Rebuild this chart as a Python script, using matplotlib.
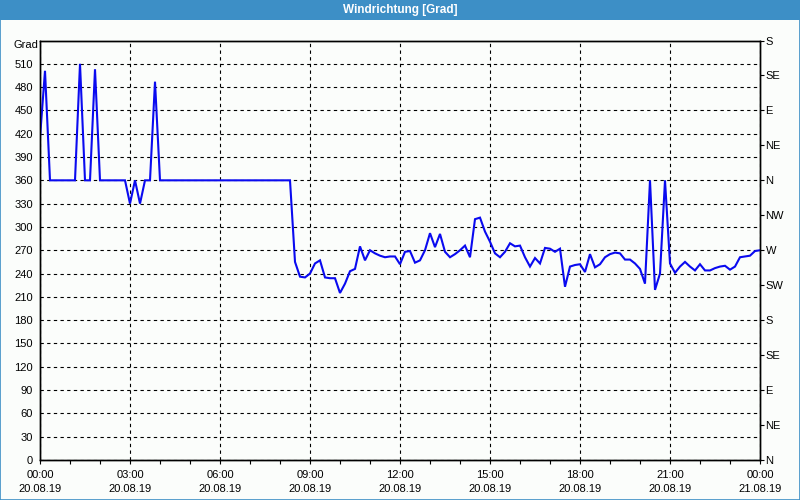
import numpy as np
import matplotlib
matplotlib.use("Agg")
import matplotlib.pyplot as plt
from matplotlib.patches import Rectangle

plt.rcParams['font.family'] = ['Liberation Sans', 'DejaVu Sans']

title = "Windrichtung [Grad]"
y_label = "Grad"

# 10-minute samples, 20.08.19 00:00 .. 21.08.19 00:00
direction = [
    415, 501, 360, 360, 360, 360, 360, 360, 510, 360,
    360, 503, 360, 360, 360, 360, 360, 360, 330, 360,
    330, 360, 360, 487, 360, 360, 360, 360, 360, 360,
    360, 360, 360, 360, 360, 360, 360, 360, 360, 360,
    360, 360, 360, 360, 360, 360, 360, 360, 360, 360,
    360, 255, 236, 235, 240, 253, 257, 235, 234, 234,
    215, 227, 243, 246, 275, 257, 270, 266, 263, 261,
    262, 262, 252, 268, 269, 254, 257, 270, 292, 274,
    291, 268, 261, 265, 270, 276, 261, 310, 312, 294,
    281, 266, 261, 268, 279, 275, 276, 261, 249, 260,
    253, 273, 272, 268, 272, 223, 249, 251, 252, 242,
    265, 248, 252, 261, 265, 267, 266, 258, 258, 253,
    246, 227, 360, 219, 240, 360, 253, 241, 249, 255,
    249, 244, 252, 244, 244, 247, 249, 250, 245, 249,
    261, 262, 263, 269, 270,
]
hours = np.arange(len(direction)) / 6.0

x_tick_hours = [0, 3, 6, 9, 12, 15, 18, 21, 24]
x_tick_labels = ["00:00\n20.08.19", "03:00\n20.08.19", "06:00\n20.08.19",
                 "09:00\n20.08.19", "12:00\n20.08.19", "15:00\n20.08.19",
                 "18:00\n20.08.19", "21:00\n20.08.19", "00:00\n21.08.19"]
left_ticks = list(range(0, 511, 30))
right_ticks = list(range(0, 541, 45))
right_labels = ["N", "NE", "E", "SE", "S", "SW", "W", "NW", "N", "NE", "E", "SE", "S"]

bg = '#fbfdfb'
bar = '#3d8fc6'

fig = plt.figure(figsize=(8, 5), dpi=100, facecolor=bg)

# title bar and window frame
fig.patches.append(Rectangle((0, 1 - 20 / 500), 1, 20 / 500, transform=fig.transFigure,
                             facecolor=bar, edgecolor='none', zorder=0))
fig.patches.append(Rectangle((0.0006, 0.001), 0.9988, 0.998, transform=fig.transFigure,
                             facecolor='none', edgecolor=bar, linewidth=1.2, zorder=5))
fig.text(0.5, 1 - 10.5 / 500, title, color='white', fontweight='bold', fontsize=8.5,
         ha='center', va='center')

ax = fig.add_axes([40 / 800, 1 - 460 / 500, 720 / 800, 419.5 / 500])
ax.set_facecolor(bg)
ax.plot(hours, direction, color='#0a0af0', linewidth=1.5, solid_joinstyle='miter', zorder=3)
ax.set_xlim(0, 24)
ax.set_ylim(0, 540)

ax.set_yticks(left_ticks)
ax.set_yticklabels([str(v) for v in left_ticks], fontsize=8)
ax.set_xticks(x_tick_hours)
ax.set_xticklabels(x_tick_labels, fontsize=8, linespacing=1.55)
ax.set_xticks(np.arange(0, 25, 1), minor=True)
ax.tick_params(axis='y', which='both', length=0, pad=5)
ax.tick_params(axis='x', which='both', length=3, width=0.8, direction='out', pad=4)

ax.grid(True, which='major', color='black', linestyle=(0, (3, 3)), linewidth=0.8)
for s in ax.spines.values():
    s.set_color('black')
    s.set_linewidth(1.0)

ax2 = ax.twinx()
ax2.set_ylim(0, 540)
ax2.set_yticks(right_ticks)
ax2.set_yticklabels(right_labels, fontsize=8)
ax2.tick_params(axis='y', length=3, width=0.8, pad=1)
for s in ax2.spines.values():
    s.set_color('black')
    s.set_linewidth(1.0)

fig.text(13 / 800, 1 - 45 / 500, y_label, fontsize=8, ha='left', va='center')

fig.savefig('out.png', dpi=100, facecolor=bg)
